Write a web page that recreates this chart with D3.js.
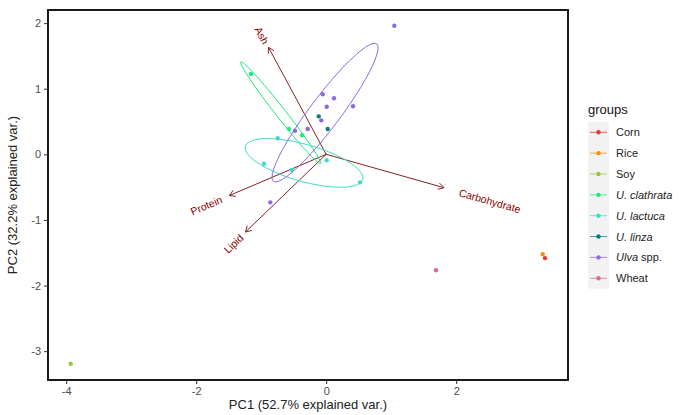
<!DOCTYPE html>
<html><head><meta charset="utf-8">
<script src="https://cdn.jsdelivr.net/npm/d3@7"></script>
<style>body{margin:0;background:#fff} text{font-family:"Liberation Sans",Arial,sans-serif}</style>
</head><body><svg id="c" width="686" height="415"></svg>
<script>
// ---- data ----
const groups = ["Corn","Rice","Soy","U. clathrata","U. lactuca","U. linza","Ulva spp.","Wheat"];
const groupColors = ["#E8363B","#F7900F","#96C83A","#1DEB7C","#3FDBCB","#0A7C76","#8E6AE0","#DB6A95"];
const pointGroup = ["Corn","Rice","Soy","Wheat",
  "U. clathrata","U. clathrata","U. clathrata",
  "U. lactuca","U. lactuca","U. lactuca","U. lactuca","U. lactuca",
  "U. linza","U. linza",
  "Ulva spp.","Ulva spp.","Ulva spp.","Ulva spp.","Ulva spp.","Ulva spp.","Ulva spp.","Ulva spp.","Ulva spp."];
const pc1 = [3.366,3.331,-3.931,1.689,
  -1.157,-0.572,-0.372,
  -0.746,-0.957,0.008,-0.531,0.520,
  -0.115,0.023,
  1.048,-0.054,0.120,0.008,0.412,-0.075,-0.480,-0.285,-0.860];
const pc2 = [-1.582,-1.524,-3.192,-1.768,
  1.224,0.386,0.290,
  0.244,-0.143,-0.091,-0.239,-0.427,
  0.579,0.386,
  1.960,0.915,0.854,0.726,0.732,0.518,0.360,0.386,-0.732];
const variables = ["Ash","Protein","Lipid","Carbohydrate"];
const loadX = [-0.888,-1.491,-1.242,1.812];
const loadY = [1.631,-0.628,-1.184,-0.509];
const xTicks = [-4,-2,0,2];
const yTicks = [-3,-2,-1,0,1,2];
const xTitle = "PC1 (52.7% explained var.)";
const yTitle = "PC2 (32.2% explained var.)";
const legendTitle = "groups";
const ellipseProb = 0.68;

// ---- layout ----
const svg = d3.select("#c");
const L=48, R=568, T=10, B=380;
const x = d3.scaleLinear().domain([-4.28,3.72]).range([L,R]);
const y = d3.scaleLinear().domain([-3.44,2.2]).range([B,T]);
const color = d3.scaleOrdinal().domain(groups).range(groupColors);

const pts = pc1.map((v,i)=>({x:v,y:pc2[i],g:pointGroup[i]}));

// arrows
const defs = svg.append("defs");
const arrowCol = "#832424";
const ax0 = x(0), ay0 = y(0);
const vars = variables.map((n,i)=>({n, vx:loadX[i], vy:loadY[i]}));
const gA = svg.append("g");
vars.forEach(v=>{
  const x1 = x(v.vx), y1 = y(v.vy);
  gA.append("line").attr("x1",ax0).attr("y1",ay0).attr("x2",x1).attr("y2",y1)
    .attr("stroke",arrowCol).attr("stroke-width",1);
  const ang = Math.atan2(y1-ay0, x1-ax0);
  const hl = 6.5, ha = Math.PI/6;
  const p1 = [x1 - hl*Math.cos(ang-ha), y1 - hl*Math.sin(ang-ha)];
  const p2 = [x1 - hl*Math.cos(ang+ha), y1 - hl*Math.sin(ang+ha)];
  gA.append("path").attr("d",`M${p1[0]},${p1[1]}L${x1},${y1}L${p2[0]},${p2[1]}`)
    .attr("fill","none").attr("stroke",arrowCol).attr("stroke-width",1);
});

// points
svg.append("g").selectAll("circle").data(pts).join("circle")
  .attr("cx",d=>x(d.x)).attr("cy",d=>y(d.y)).attr("r",2.2)
  .attr("fill",d=>color(d.g));

// ellipses (as in ggbiplot: normal-probability contour, groups with >2 points)
const ed = Math.sqrt(-2*Math.log(1-ellipseProb));
const theta = d3.range(50).map(i=>-Math.PI + 2*Math.PI*i/49);
const gE = svg.append("g");
groups.forEach(g=>{
  const p = pts.filter(d=>d.g===g);
  if (p.length<=2) return;
  const n=p.length;
  const mx=d3.mean(p,d=>d.x), my=d3.mean(p,d=>d.y);
  let sxx=0,syy=0,sxy=0;
  p.forEach(d=>{sxx+=(d.x-mx)**2; syy+=(d.y-my)**2; sxy+=(d.x-mx)*(d.y-my);});
  sxx/=(n-1); syy/=(n-1); sxy/=(n-1);
  const a=Math.sqrt(sxx), b=sxy/a, c=Math.sqrt(Math.max(syy-b*b,0));
  const line = d3.line().x(t=>x(mx+ed*Math.cos(t)*a)).y(t=>y(my+ed*(Math.cos(t)*b+Math.sin(t)*c)));
  gE.append("path").attr("d",line(theta)).attr("fill","none")
    .attr("stroke",color(g)).attr("stroke-width",1);
});

// variable labels
vars.forEach(v=>{
  const x1 = x(v.vx), y1 = y(v.vy);
  let ang = Math.atan2(y1-ay0, x1-ax0)*180/Math.PI;
  const neg = v.vx<0;
  if (neg) ang += 180;
  const t = svg.append("text").attr("font-size",10.5).attr("fill","#8B0000")
    .attr("dominant-baseline","central").text(v.n);
  const w = t.node().getComputedTextLength();
  t.attr("text-anchor", neg ? "end" : "start")
   .attr("transform",`translate(${x1},${y1}) rotate(${ang})`)
   .attr("x", neg ? -0.25*w : 0.25*w);
});

// panel border
svg.append("rect").attr("x",L).attr("y",T).attr("width",R-L).attr("height",B-T)
  .attr("fill","none").attr("stroke","#000").attr("stroke-width",1.8);

// axes
const gx = svg.append("g").attr("transform",`translate(0,${B})`)
  .call(d3.axisBottom(x).tickValues(xTicks).tickSize(4).tickPadding(3).tickFormat(d3.format("d")));
const gy = svg.append("g").attr("transform",`translate(${L},0)`)
  .call(d3.axisLeft(y).tickValues(yTicks).tickSize(4).tickPadding(3).tickFormat(d=>d<0?"-"+Math.abs(d):d));
[gx,gy].forEach(g=>{
  g.select(".domain").remove();
  g.selectAll(".tick line").attr("stroke","#333");
  g.selectAll(".tick text").attr("fill","#4D4D4D").attr("font-size",11)
    .attr("font-family","Liberation Sans, Arial, sans-serif");
});
gx.selectAll(".tick text").text(d=>d<0?"-"+Math.abs(d):d);

svg.append("text").attr("x",(L+R)/2).attr("y",409).attr("text-anchor","middle")
  .attr("font-size",13).attr("fill","#222").text(xTitle);
svg.append("text").attr("transform",`translate(17,${(T+B)/2}) rotate(-90)`).attr("text-anchor","middle")
  .attr("font-size",13).attr("fill","#222").text(yTitle);

// legend
const lgX = 588, lgY0 = 132.3, lgStep = 20.85;
svg.append("text").attr("x",lgX).attr("y",114).attr("font-size",13).attr("fill","#111").text(legendTitle);
svg.append("rect").attr("x",lgX).attr("y",lgY0-lgStep/2).attr("width",21).attr("height",lgStep*groups.length)
  .attr("fill","#F2F2F2");
groups.forEach((g,i)=>{
  const cy = lgY0 + i*lgStep;
  svg.append("line").attr("x1",lgX+2).attr("x2",lgX+19).attr("y1",cy).attr("y2",cy)
    .attr("stroke",color(g)).attr("stroke-width",1).attr("opacity",0.75);
  svg.append("circle").attr("cx",lgX+10.5).attr("cy",cy).attr("r",2.2).attr("fill",color(g));
  const t = svg.append("text").attr("x",616).attr("y",cy).attr("dominant-baseline","central")
    .attr("font-size",11).attr("fill","#222");
  if (g.startsWith("U. ")) t.attr("font-style","italic").text(g);
  else if (g==="Ulva spp.") { t.append("tspan").attr("font-style","italic").text("Ulva"); t.append("tspan").text(" spp."); }
  else t.text(g);
});
</script></body></html>
